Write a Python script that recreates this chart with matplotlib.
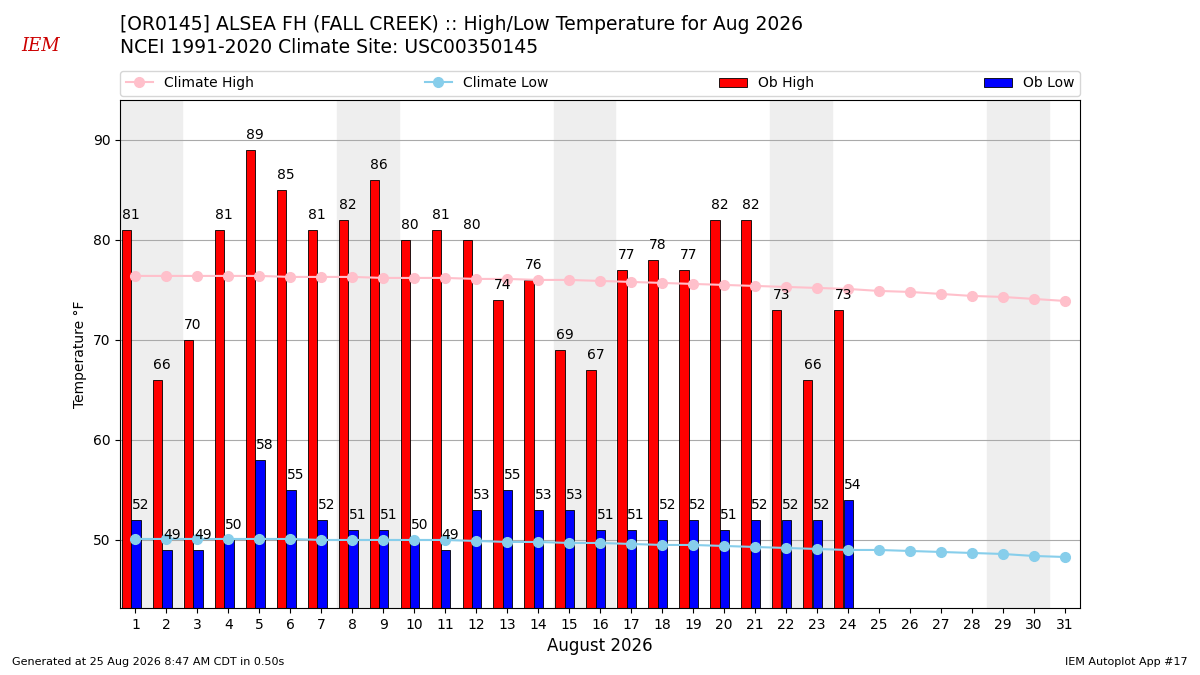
import matplotlib
matplotlib.use("Agg")
import matplotlib.pyplot as plt
import numpy as np

days = list(range(1, 32))
ob_high = [81, 66, 70, 81, 89, 85, 81, 82, 86, 80, 81, 80, 74, 76, 69, 67, 77, 78, 77, 82, 82, 73, 66, 73]
ob_low = [52, 49, 49, 50, 58, 55, 52, 51, 51, 50, 49, 53, 55, 53, 53, 51, 51, 52, 52, 51, 52, 52, 52, 54]
clim_high = [76.4, 76.4, 76.4, 76.4, 76.4, 76.3, 76.3, 76.3, 76.2, 76.2, 76.2, 76.1, 76.1, 76.0, 76.0, 75.9,
             75.8, 75.7, 75.6, 75.5, 75.4, 75.3, 75.2, 75.1, 74.9, 74.8, 74.6, 74.4, 74.3, 74.1, 73.9]
clim_low = [50.1, 50.1, 50.1, 50.1, 50.1, 50.1, 50.0, 50.0, 50.0, 50.0, 50.0, 49.9, 49.8, 49.8, 49.7, 49.7,
            49.6, 49.5, 49.5, 49.4, 49.3, 49.2, 49.1, 49.0, 49.0, 48.9, 48.8, 48.7, 48.6, 48.4, 48.3]
weekends = [1, 8, 15, 22, 29]

fig = plt.figure(figsize=(12, 6.75), dpi=100)
ax = fig.add_axes([0.1, 0.0993, 0.8, 0.7527])

for w in weekends:
    ax.axvspan(w - 0.5, w + 1.5, color="#eeeeee", zorder=0)

n = len(ob_high)
xh = np.array(days[:n]) - 0.29
xl = np.array(days[:n]) + 0.02
ax.plot(days, clim_high, color="pink", marker="o", markersize=7, label="Climate High", zorder=3)
ax.plot(days, clim_low, color="skyblue", marker="o", markersize=7, label="Climate Low", zorder=3)
ax.bar(xh, ob_high, width=0.3, color="red", edgecolor="black", linewidth=0.6, label="Ob High", zorder=2)
ax.bar(xl, ob_low, width=0.3, color="blue", edgecolor="black", linewidth=0.6, label="Ob Low", zorder=2)
for x, v in zip(xh, ob_high):
    ax.text(x + 0.15, v + 0.8, str(v), ha="center", va="bottom", fontsize=10, zorder=4)
for x, v in zip(xl, ob_low):
    ax.text(x + 0.15, v + 0.8, str(v), ha="center", va="bottom", fontsize=10, zorder=4)

ax.set_xlim(0.5, 31.5)
ax.set_ylim(43.2, 94)
ax.set_xticks(days)
ax.set_yticks([50, 60, 70, 80, 90])
ax.grid(axis="y", color="#aaaaaa", zorder=1)
ax.set_axisbelow(True)
ax.set_ylabel("Temperature °F")
ax.set_xlabel("August 2026", fontsize=12)

fig.legend(loc="lower left", bbox_to_anchor=(0.1, 0.858, 0.8, 0.04), ncol=4, mode="expand",
           fontsize=10, borderaxespad=0)

fig.text(0.1, 0.963, "[OR0145] ALSEA FH (FALL CREEK) :: High/Low Temperature for Aug 2026", fontsize=13.5, va="center")
fig.text(0.1, 0.929, "NCEI 1991-2020 Climate Site: USC00350145", fontsize=13.5, va="center")
fig.text(0.01, 0.015, "Generated at 25 Aug 2026 8:47 AM CDT in 0.50s", fontsize=8)
fig.text(0.99, 0.015, "IEM Autoplot App #17", fontsize=8, ha="right")
fig.text(0.018, 0.925, "IEM", fontsize=13, color="#cc0000", style="italic", family="serif")

fig.savefig("out.png")
